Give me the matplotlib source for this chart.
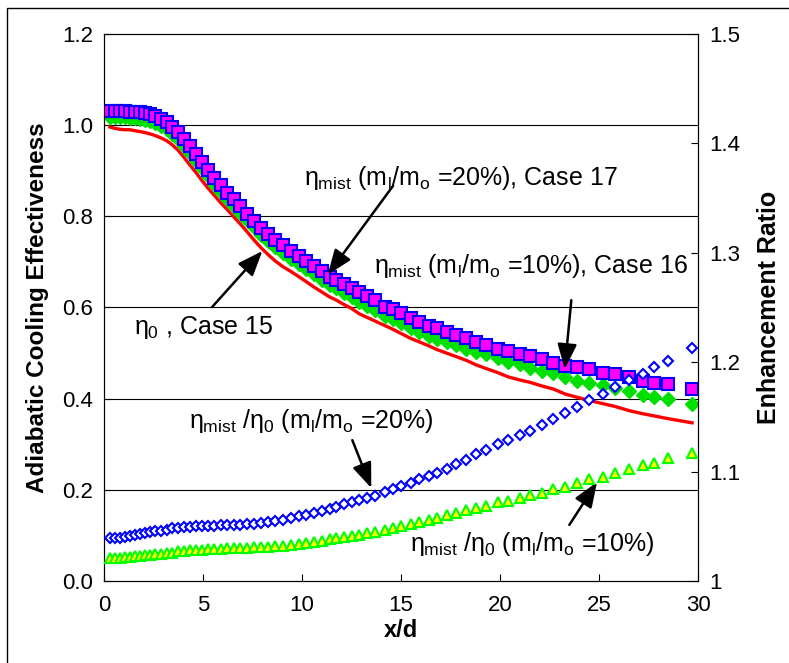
import matplotlib
matplotlib.use("Agg")
import matplotlib.pyplot as plt
from matplotlib.patches import Rectangle

plt.rcParams['font.family'] = ['Liberation Sans', 'DejaVu Sans']
plt.rcParams['mathtext.fontset'] = 'custom'
plt.rcParams['mathtext.rm'] = 'Liberation Sans'
plt.rcParams['mathtext.it'] = 'Liberation Sans'

# x/d positions shared by all series
x_d = [0.30, 0.55, 0.80, 1.05, 1.30, 1.55, 1.80, 2.05, 2.32, 2.60,
       2.88, 3.16, 3.45, 3.74, 4.03, 4.33, 4.63, 4.94, 5.25, 5.57,
       5.89, 6.22, 6.55, 6.89, 7.23, 7.58, 7.93, 8.29, 8.65, 9.02,
       9.44, 9.86, 10.2, 10.6, 11.0, 11.4, 11.7, 12.1, 12.5, 12.9,
       13.3, 13.7, 14.2, 14.6, 15.0, 15.5, 15.9, 16.4, 16.8, 17.3,
       17.8, 18.3, 18.8, 19.3, 19.9, 20.4, 21.0, 21.5, 22.1, 22.7,
       23.3, 23.9, 24.5, 25.2, 25.8, 26.5, 27.2, 27.8, 28.5, 29.7]

# eta_mist, ml/mo = 20%, Case 17
eta_mist20 = [1.032, 1.032, 1.031, 1.031, 1.030, 1.029, 1.028, 1.027, 1.024, 1.020,
              1.014, 1.006, 0.996, 0.985, 0.970, 0.954, 0.937, 0.919, 0.902, 0.885,
              0.868, 0.852, 0.837, 0.822, 0.806, 0.790, 0.775, 0.762, 0.749, 0.737,
              0.724, 0.713, 0.702, 0.691, 0.680, 0.668, 0.661, 0.652, 0.643, 0.633,
              0.625, 0.617, 0.602, 0.596, 0.588, 0.578, 0.568, 0.560, 0.554, 0.547,
              0.540, 0.533, 0.525, 0.518, 0.510, 0.505, 0.499, 0.494, 0.487, 0.479,
              0.472, 0.470, 0.465, 0.456, 0.454, 0.448, 0.439, 0.434, 0.432, 0.421]

# eta_mist, ml/mo = 10%, Case 16
eta_mist10 = [1.018, 1.018, 1.017, 1.017, 1.016, 1.015, 1.014, 1.012, 1.009, 1.005,
              0.999, 0.991, 0.981, 0.970, 0.955, 0.939, 0.922, 0.905, 0.888, 0.871,
              0.854, 0.838, 0.823, 0.808, 0.792, 0.776, 0.760, 0.746, 0.733, 0.720,
              0.707, 0.695, 0.684, 0.673, 0.661, 0.649, 0.642, 0.632, 0.622, 0.612,
              0.604, 0.595, 0.582, 0.575, 0.566, 0.556, 0.546, 0.538, 0.531, 0.524,
              0.517, 0.510, 0.503, 0.498, 0.489, 0.480, 0.476, 0.467, 0.461, 0.456,
              0.448, 0.439, 0.434, 0.430, 0.423, 0.417, 0.408, 0.404, 0.399, 0.388]

# eta_0, Case 15
eta_0 = [0.996, 0.993, 0.991, 0.990, 0.990, 0.988, 0.986, 0.984, 0.981, 0.977,
         0.972, 0.966, 0.957, 0.945, 0.930, 0.913, 0.897, 0.879, 0.862, 0.846,
         0.830, 0.815, 0.799, 0.783, 0.766, 0.748, 0.731, 0.716, 0.702, 0.690,
         0.679, 0.667, 0.657, 0.645, 0.634, 0.623, 0.617, 0.607, 0.598, 0.586,
         0.578, 0.570, 0.560, 0.552, 0.543, 0.532, 0.525, 0.516, 0.508, 0.500,
         0.492, 0.484, 0.474, 0.466, 0.457, 0.448, 0.441, 0.436, 0.428, 0.421,
         0.410, 0.403, 0.396, 0.389, 0.383, 0.374, 0.367, 0.362, 0.356, 0.347]

# enhancement ratio eta_mist/eta_0, 20%
ratio20 = [1.039, 1.039, 1.039, 1.040, 1.041, 1.042, 1.043, 1.044, 1.045, 1.046,
           1.046, 1.047, 1.048, 1.048, 1.049, 1.049, 1.050, 1.050, 1.050, 1.050,
           1.051, 1.051, 1.051, 1.051, 1.052, 1.052, 1.053, 1.054, 1.055, 1.056,
           1.058, 1.059, 1.060, 1.062, 1.064, 1.066, 1.068, 1.070, 1.072, 1.074,
           1.076, 1.078, 1.081, 1.084, 1.087, 1.090, 1.093, 1.096, 1.099, 1.102,
           1.107, 1.111, 1.116, 1.120, 1.125, 1.129, 1.133, 1.137, 1.143, 1.148,
           1.154, 1.159, 1.165, 1.171, 1.177, 1.184, 1.189, 1.196, 1.201, 1.213]

# enhancement ratio eta_mist/eta_0, 10%
ratio10 = [1.021, 1.021, 1.021, 1.022, 1.022, 1.023, 1.023, 1.024, 1.024, 1.025,
           1.025, 1.026, 1.026, 1.027, 1.027, 1.028, 1.028, 1.028, 1.029, 1.029,
           1.029, 1.030, 1.030, 1.030, 1.030, 1.031, 1.031, 1.031, 1.032, 1.032,
           1.033, 1.034, 1.035, 1.036, 1.037, 1.038, 1.039, 1.040, 1.041, 1.042,
           1.044, 1.045, 1.047, 1.048, 1.050, 1.052, 1.054, 1.056, 1.058, 1.060,
           1.062, 1.065, 1.067, 1.069, 1.072, 1.073, 1.076, 1.079, 1.080, 1.084,
           1.086, 1.090, 1.093, 1.095, 1.099, 1.102, 1.106, 1.108, 1.112, 1.117]

left_ticks = [0.0, 0.2, 0.4, 0.6, 0.8, 1.0, 1.2]
right_ticks = [1.0, 1.1, 1.2, 1.3, 1.4, 1.5]
right_labels = ["1", "1.1", "1.2", "1.3", "1.4", "1.5"]
x_ticks = [0, 5, 10, 15, 20, 25, 30]

fig = plt.figure(figsize=(7.89, 6.63), dpi=100)
ax = fig.add_axes([0.1318, 0.1237, 0.7529, 0.825])
ax2 = ax.twinx()

ax.set_xlim(0, 30)
ax.set_ylim(0, 1.2)
ax2.set_ylim(1.0, 1.5)

for v in left_ticks[1:-1]:
    ax.axhline(v, color='black', lw=0.8, zorder=0)

ax.plot(x_d, eta_0, color='#ff0000', lw=2.4, zorder=2)
ax.plot(x_d, eta_mist10, ls='none', marker='D', ms=7, mfc='#00e000',
        mec='#00e000', zorder=3)
ax.plot(x_d, eta_mist20, ls='none', marker='s', ms=8, mfc='#ff00ff',
        mec='#0000ff', mew=1.5, zorder=4)
ax2.plot(x_d, ratio20, ls='none', marker='D', ms=5.5, mfc='white',
         mec='#0000ff', mew=1.5, zorder=3)
ax2.plot(x_d, ratio10, ls='none', marker='^', ms=7, mfc='#ffff00',
         mec='#00ff00', mew=1.5, zorder=3)

ax.set_xticks(x_ticks)
ax.set_yticks(left_ticks)
ax.set_yticklabels([f"{t:.1f}" for t in left_ticks])
ax2.set_yticks(right_ticks)
ax2.set_yticklabels(right_labels)
ax.tick_params(axis='both', direction='in', labelsize=16, length=5, pad=8)
ax.tick_params(axis='x', pad=10)
ax2.tick_params(axis='y', direction='in', labelsize=16, length=5, pad=8)

ax.set_xlabel("x/d", fontsize=17, fontweight='bold', labelpad=2)
ax.set_ylabel("Adiabatic Cooling Effectiveness", fontsize=17.5,
              fontweight='bold', labelpad=9)
ax2.set_ylabel("Enhancement Ratio", fontsize=18, fontweight='bold',
               labelpad=12)

arrow = dict(arrowstyle='-|>,head_length=0.9,head_width=0.35',
             mutation_scale=17, color='black', lw=1.8,
             shrinkA=0, shrinkB=0)
ann = [
    (r"$\eta_{\rm mist}$ (m$_{\rm l}$/m$_{\rm o}$ =20%), Case 17",
     (11.3, 0.672), (14.6, 0.867), (10.1, 0.868)),
    (r"$\eta_0$ , Case 15", (8.0, 0.724), (5.46, 0.601), (1.5, 0.542)),
    (r"$\eta_{\rm mist}$ (m$_{\rm l}$/m$_{\rm o}$ =10%), Case 16",
     (23.27, 0.465), (23.6, 0.616), (13.66, 0.676)),
    (r"$\eta_{\rm mist}$ /$\eta_0$ (m$_{\rm l}$/m$_{\rm o}$ =20%)",
     (13.5, 0.204), (12.54, 0.309), (4.3, 0.336)),
    (r"$\eta_{\rm mist}$ /$\eta_0$ (m$_{\rm l}$/m$_{\rm o}$ =10%)",
     (24.9, 0.217), (23.5, 0.123), (15.43, 0.066)),
]
for label, tip, tail, txt in ann:
    ax.annotate("", xy=tip, xytext=tail, arrowprops=arrow, zorder=6)
    ax.text(txt[0], txt[1], label, fontsize=18, ha='left', va='baseline',
            zorder=6)

fig.add_artist(Rectangle((7 / 789, -0.05), 1.2, 1 - 8 / 663 + 0.05,
                         transform=fig.transFigure, fill=False,
                         edgecolor='black', lw=1))

fig.savefig("out.png", dpi=100)
